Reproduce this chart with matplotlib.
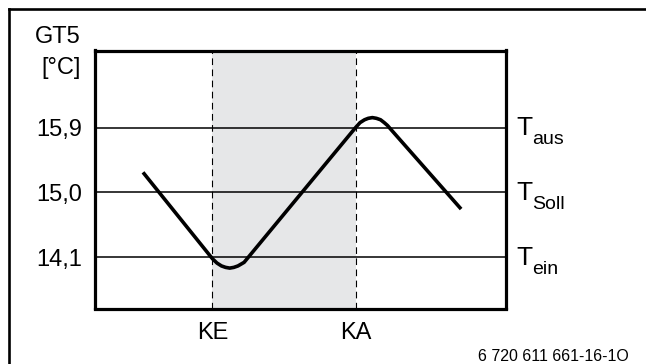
import numpy as np
import matplotlib
matplotlib.use('Agg')
import matplotlib.pyplot as plt
from matplotlib.lines import Line2D
from matplotlib import transforms

plt.rcParams['font.family'] = ['Liberation Sans', 'DejaVu Sans']

# Schaltpunkte (x-Achse ohne Einheit, 0..100)
x_ke = 28.7
x_ka = 63.7
x_labels = ['KE', 'KA']

# Temperaturniveaus
y_levels = [15.9, 15.0, 14.1]
y_labels = ['15,9', '15,0', '14,1']
level_names = ['aus', 'Soll', 'ein']

# Temperaturverlauf GT5
curve_x = [11.8, 28.7, 29.8, 30.9, 31.9, 32.9, 33.9, 34.9, 35.8, 36.4,
           63.5, 64.6, 65.7, 66.6, 67.6, 68.6, 69.6, 70.5, 71.3, 71.9, 89.2]
curve_y = [15.28, 14.08, 14.02, 13.98, 13.96, 13.95, 13.96, 13.98, 14.01, 14.03,
           15.90, 15.97, 16.01, 16.03, 16.04, 16.03, 16.01, 15.97, 15.93, 15.89, 14.77]

fig = plt.figure(figsize=(6.46, 3.64), dpi=100)
W, H = 646.0, 364.0

# äußerer Rahmen
fig.add_artist(Line2D([8.5 / W, 8.5 / W], [0, 1 - 8.5 / H], color='black', lw=1.9,
                      transform=fig.transFigure, solid_capstyle='projecting'))
fig.add_artist(Line2D([8.5 / W, 1.0], [1 - 8.5 / H, 1 - 8.5 / H], color='black', lw=1.9,
                      transform=fig.transFigure, solid_capstyle='projecting'))

ax = fig.add_axes([94.5 / W, (H - 308.5) / H, 411.0 / W, 258.0 / H])
ax.set_xlim(0, 100)
ax.set_ylim(13.389, 16.972)

# Bereich zwischen KE und KA
ax.axvspan(x_ke, x_ka, color='#e6e7e8', lw=0, zorder=0)
for xv in (x_ke, x_ka):
    ax.axvline(xv, color='black', lw=0.8, ls=(0, (6, 4)), zorder=1)

for yv in y_levels:
    ax.axhline(yv, color='black', lw=1.1, zorder=2)

ax.plot(curve_x, curve_y, color='black', lw=2.6, solid_joinstyle='round',
        solid_capstyle='butt', zorder=3)

for s in ax.spines.values():
    s.set_linewidth(2.3)

ax.set_yticks(y_levels)
ax.set_yticklabels(y_labels)
ax.set_xticks([x_ke, x_ka])
ax.set_xticklabels(x_labels)
ax.tick_params(axis='both', length=0, labelsize=17)
ax.tick_params(axis='y', pad=9)
ax.tick_params(axis='x', pad=10)

# Beschriftung rechts: T mit Index
trans = transforms.blended_transform_factory(ax.transAxes, ax.transData)
for yv, name in zip(y_levels, level_names):
    ax.annotate('T', xy=(1, yv), xycoords=trans, xytext=(8, -5.5),
                textcoords='offset points', ha='left', va='baseline', fontsize=19)
    ax.annotate(name, xy=(1, yv), xycoords=trans, xytext=(19.4, -12),
                textcoords='offset points', ha='left', va='baseline', fontsize=14)

fig.text(81 / W, 1 - 36.7 / H, 'GT5', ha='right', va='center', fontsize=17)
fig.text(81 / W, 1 - 68.3 / H, '[°C]', ha='right', va='center', fontsize=17)
fig.text(629 / W, 1 - 356.5 / H, '6 720 611 661-16-1O', ha='right', va='center', fontsize=11.5)

fig.savefig('out.png', dpi=100)
